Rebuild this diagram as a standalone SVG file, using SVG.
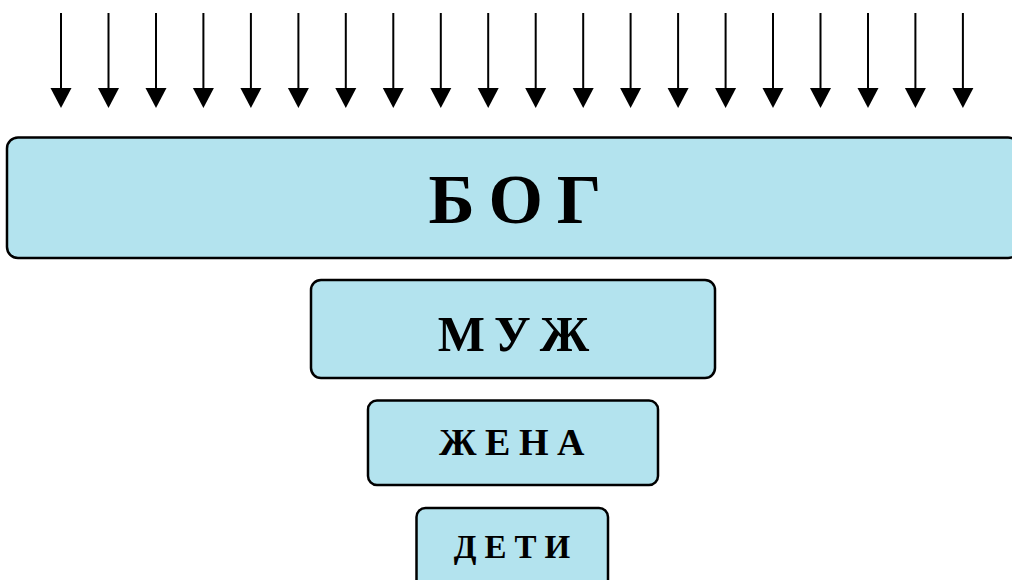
<svg xmlns="http://www.w3.org/2000/svg" width="1012" height="580" viewBox="0 0 1012 580">
<style>
.box{fill:#b3e3ee;stroke:#000;stroke-width:2.5}
.lbl{font-family:"Liberation Serif","Times New Roman",serif;font-weight:bold;fill:#000;text-anchor:middle}
</style>
<g id="connectors">
<path d="M61,13V90M108.5,13V90M156,13V90M203.4,13V90M250.9,13V90M298.4,13V90M345.8,13V90M393.3,13V90M440.8,13V90M488.2,13V90M535.7,13V90M583.2,13V90M630.6,13V90M678.1,13V90M725.6,13V90M773,13V90M820.5,13V90M868,13V90M915.4,13V90M962.9,13V90" stroke="#000" stroke-width="2" fill="none"/>
<g fill="#000">
<path d="M50.5,88H71.5L61,108Z"/><path d="M98,88H119L108.5,108Z"/><path d="M145.5,88H166.5L156,108Z"/><path d="M192.9,88H213.9L203.4,108Z"/><path d="M240.4,88H261.4L250.9,108Z"/><path d="M287.9,88H308.9L298.4,108Z"/><path d="M335.3,88H356.3L345.8,108Z"/><path d="M382.8,88H403.8L393.3,108Z"/><path d="M430.3,88H451.3L440.8,108Z"/><path d="M477.7,88H498.7L488.2,108Z"/><path d="M525.2,88H546.2L535.7,108Z"/><path d="M572.7,88H593.7L583.2,108Z"/><path d="M620.1,88H641.1L630.6,108Z"/><path d="M667.6,88H688.6L678.1,108Z"/><path d="M715.1,88H736.1L725.6,108Z"/><path d="M762.5,88H783.5L773,108Z"/><path d="M810,88H831L820.5,108Z"/><path d="M857.5,88H878.5L868,108Z"/><path d="M904.9,88H925.9L915.4,108Z"/><path d="M952.4,88H973.4L962.9,108Z"/>
</g>
</g>
<g id="bog">
<rect class="box" x="7" y="137.5" width="1012" height="120.5" rx="11"/>
<text class="lbl" x="522" y="223" font-size="70" letter-spacing="14">БОГ</text>
</g>
<g id="muzh">
<rect class="box" x="311" y="280" width="404" height="98" rx="10"/>
<text class="lbl" x="518" y="351" font-size="50" letter-spacing="9">МУЖ</text>
</g>
<g id="zhena">
<rect class="box" x="368" y="400.5" width="290" height="84.5" rx="9"/>
<text class="lbl" x="516" y="455" font-size="38" letter-spacing="8.5">ЖЕНА</text>
</g>
<g id="deti">
<rect class="box" x="416.5" y="508" width="191.5" height="90" rx="9"/>
<text class="lbl" x="516" y="558" font-size="33" letter-spacing="8">ДЕТИ</text>
</g>
</svg>
